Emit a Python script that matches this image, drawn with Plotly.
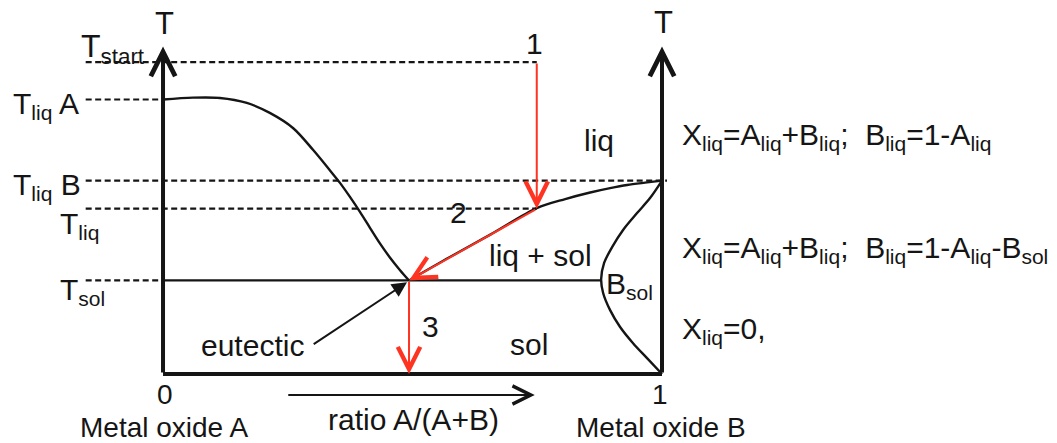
import plotly.graph_objects as go

# Phase diagram of a binary oxide system (schematic units)
# composition axis: 0 = metal oxide A, 1 = metal oxide B; temperature in arbitrary units
level_labels = ["T<sub>start</sub>", "T<sub>liq</sub> A", "T<sub>liq</sub> B", "T<sub>liq</sub>", "T<sub>sol</sub>"]
level_T = [100, 88, 62, 53, 30]
level_dash_end = [0.749, 0.0, 1.01, 0.749, 0.0]
dash_start = -0.155

# liquidus on the A side
liqA_x = [0.0, 0.060, 0.114, 0.168, 0.214, 0.261, 0.301, 0.335, 0.355, 0.375,
          0.395, 0.415, 0.435, 0.455, 0.475, 0.493]
liqA_T = [88.0, 88.6, 88.5, 86.9, 83.7, 78.8, 71.8, 65.2, 61.2, 56.7,
          51.9, 46.8, 41.8, 37.3, 33.3, 30.0]
# liquidus on the B side
liqB_x = [0.493, 0.575, 0.655, 0.749, 0.806, 0.856, 0.896, 0.930, 0.966, 1.0]
liqB_T = [30.0, 37.5, 44.6, 53.2, 56.1, 58.2, 59.6, 60.6, 61.35, 62.0]
# solubility limit of B_sol
solv_x = [1.0, 0.976, 0.950, 0.922, 0.900, 0.884, 0.878, 0.882, 0.896, 0.916,
          0.942, 0.970, 1.0]
solv_T = [62.0, 56.4, 51.6, 46.2, 40.7, 35.6, 30.4, 26.0, 20.5, 15.1,
          9.9, 5.1, 0.0]

eutectic_x, eutectic_T = 0.493, 30.0
start_x = 0.749
axis_top = 105

FONT = "Liberation Sans, Arial, sans-serif"
INK = "#151515"
RED = "#ff3322"
FS = 30

fig = go.Figure()

# dashed temperature guide lines
for T, x1 in zip(level_T, level_dash_end):
    fig.add_trace(go.Scatter(x=[dash_start, x1], y=[T, T], mode="lines",
                             line=dict(color=INK, width=2.2, dash="6px,3.5px"),
                             hoverinfo="skip"))

# eutectic isotherm
fig.add_trace(go.Scatter(x=[0, min(solv_x)], y=[eutectic_T, eutectic_T], mode="lines",
                         line=dict(color=INK, width=2.2), hoverinfo="skip"))

# phase boundaries
for xs, ts in [(liqA_x, liqA_T), (liqB_x, liqB_T), (solv_x, solv_T)]:
    fig.add_trace(go.Scatter(x=xs, y=ts, mode="lines",
                             line=dict(color=INK, width=2.4, shape="spline", smoothing=0.9),
                             hoverinfo="skip"))

# bottom frame line
fig.add_trace(go.Scatter(x=[0, 1], y=[0, 0], mode="lines",
                         line=dict(color=INK, width=4), hoverinfo="skip"))

def arrow(x0, y0, x1, y1, color, width, head, size):
    fig.add_annotation(x=x1, y=y1, ax=x0, ay=y0, xref="x", yref="y", axref="x", ayref="y",
                       text="", showarrow=True, arrowcolor=color, arrowwidth=width,
                       arrowhead=head, arrowsize=size, standoff=0)

# temperature axes
arrow(0, 0, 0, axis_top, INK, 4, 5, 1.2)
arrow(1, 0, 1, axis_top, INK, 4, 5, 1.2)

# cooling path 1 -> 2 -> 3
arrow(start_x, level_T[0], start_x, level_T[3], RED, 2, 5, 2.2)
arrow(start_x, level_T[3], eutectic_x, eutectic_T, RED, 2, 5, 2.2)
arrow(eutectic_x, eutectic_T, eutectic_x, 0, RED, 2, 5, 2.2)

# eutectic pointer and composition arrow
arrow(0.299, 9.3, eutectic_x - 0.004, eutectic_T - 0.6, INK, 2, 2, 1.5)
arrow(0.248, -6.7, 0.745, -6.7, INK, 2, 5, 1.8)

def label(x, y, text, size=FS, xanchor="center", yanchor="middle"):
    fig.add_annotation(x=x, y=y, xref="x", yref="y", text=text, showarrow=False,
                       xanchor=xanchor, yanchor=yanchor, borderpad=0,
                       font=dict(family=FONT, size=size, color=INK))

label(0.002, 112.4, "T", 31)
label(1.002, 112.6, "T", 31)
label(-0.034, 104.3, level_labels[0], 32, xanchor="right")
label(-0.303, 86.2, level_labels[1], FS, xanchor="left")
label(-0.303, 60.0, level_labels[2], FS, xanchor="left")
label(-0.208, 47.6, level_labels[3], FS, xanchor="left")
label(-0.208, 26.4, level_labels[4], FS, xanchor="left")

label(0.745, 105.8, "1", FS)
label(0.593, 51.9, "2", FS)
label(0.537, 15.1, "3", FS)
label(0.874, 75.0, "liq", FS)
label(0.757, 38.0, "liq + sol", FS)
label(0.886, 28.3, "B<sub>sol</sub>", FS, xanchor="left")
label(0.733, 9.4, "sol", FS)
label(0.180, 9.0, "eutectic", FS)

label(0.004, -6.7, "0", 28)
label(0.996, -6.7, "1", 28)
label(0.002, -17.0, "Metal oxide A", 28)
label(0.998, -17.0, "Metal oxide B", 28)
label(0.501, -14.6, "ratio A/(A+B)", FS)

eq_size = 30
label(1.038, 76.0, "X<sub>liq</sub>=A<sub>liq</sub>+B<sub>liq</sub>;  B<sub>liq</sub>=1-A<sub>liq</sub>", eq_size, xanchor="left")
label(1.038, 40.0, "X<sub>liq</sub>=A<sub>liq</sub>+B<sub>liq</sub>;  B<sub>liq</sub>=1-A<sub>liq</sub>-B<sub>sol</sub>", eq_size, xanchor="left")
label(1.038, 14.0, "X<sub>liq</sub>=0,", eq_size, xanchor="left")

fig.update_layout(
    width=1057, height=443, autosize=False,
    margin=dict(l=0, r=0, t=0, b=0),
    paper_bgcolor="white", plot_bgcolor="white",
    showlegend=False,
    xaxis=dict(range=[-0.3267, 1.7916], visible=False, fixedrange=True),
    yaxis=dict(range=[-22.1, 119.9], visible=False, fixedrange=True),
)

fig.write_html("out.html")
